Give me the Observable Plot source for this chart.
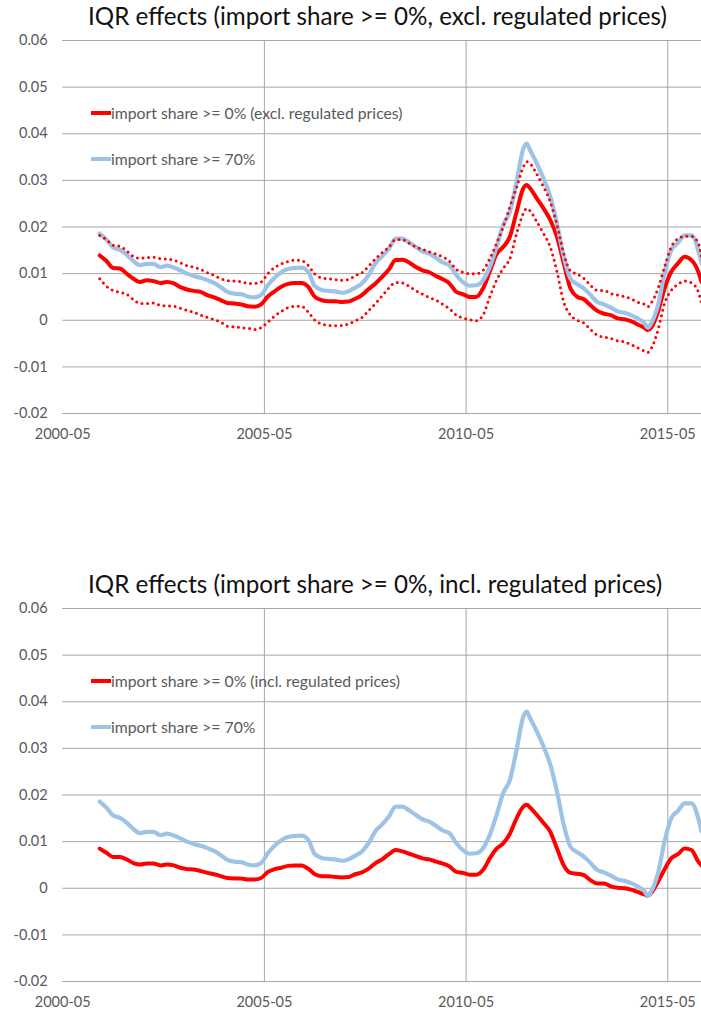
<!DOCTYPE html>
<html>
<head>
<meta charset="utf-8">
<script src="https://cdn.jsdelivr.net/npm/d3@7"></script>
<script src="https://cdn.jsdelivr.net/npm/@observablehq/plot@0.6"></script>
<style>
  html, body { margin: 0; padding: 0; background: #fff; }
  #wrap { position: relative; width: 701px; height: 1013px; overflow: hidden; font-family: Lato, "Open Sans", sans-serif; }
  .panel { position: absolute; left: 0; }
  .title { position: absolute; white-space: nowrap; color: #111; line-height: 30px; height: 30px; }
  .leg { position: absolute; white-space: nowrap; color: #595959; height: 20px; line-height: 20px; }
  .sw { position: absolute; left: 0; top: 8px; width: 20px; height: 4px; }
  .leg span.t { position: absolute; left: 20px; top: 0; }
</style>
</head>
<body>
<div id="wrap"></div>
<script>
// ---------- data ----------
const months = [
  "2001-04","2001-06","2001-08","2001-10","2001-12","2002-02","2002-04","2002-06","2002-08","2002-10",
  "2002-12","2003-02","2003-04","2003-06","2003-08","2003-10","2003-12","2004-02","2004-04","2004-06",
  "2004-08","2004-10","2004-12","2005-02","2005-04","2005-06","2005-08","2005-10","2005-12","2006-02",
  "2006-04","2006-06","2006-08","2006-10","2006-12","2007-02","2007-04","2007-06","2007-08","2007-10",
  "2007-12","2008-02","2008-04","2008-06","2008-08","2008-10","2008-12","2009-02","2009-04","2009-06",
  "2009-08","2009-10","2009-12","2010-02","2010-04","2010-06","2010-08","2010-10","2010-12","2011-02",
  "2011-04","2011-06","2011-08","2011-10","2011-11","2011-12","2012-02","2012-04","2012-06","2012-08",
  "2012-10","2012-12","2013-02","2013-04","2013-06","2013-08","2013-10","2013-12","2014-02","2014-04",
  "2014-06","2014-08","2014-10","2014-11","2014-12","2015-02","2015-04","2015-06","2015-08","2015-10",
  "2015-12","2016-02","2016-03"
];

// import share >= 70% (same series in both panels)
const share70 = [
  0.0186,0.0173,0.0156,0.0151,0.0141,0.0127,0.0118,0.0121,0.0121,0.0114,
  0.0117,0.0113,0.0107,0.0100,0.0095,0.0091,0.0086,0.0080,0.0071,0.0061,
  0.0057,0.0056,0.0051,0.0049,0.0054,0.0075,0.0091,0.0103,0.0110,0.0112,
  0.0113,0.0104,0.0073,0.0065,0.0063,0.0062,0.0059,0.0062,0.0070,0.0079,
  0.0097,0.0123,0.0137,0.0154,0.0175,0.0175,0.0167,0.0157,0.0148,0.0143,
  0.0134,0.0124,0.0118,0.0097,0.0082,0.0074,0.0075,0.0086,0.0114,0.0157,
  0.0204,0.0232,0.0297,0.0368,0.0379,0.0365,0.0336,0.0304,0.0265,0.0207,
  0.0136,0.0089,0.0077,0.0068,0.0054,0.0039,0.0034,0.0027,0.0019,0.0016,
  0.0011,0.0004,-0.0006,-0.0016,-0.0007,0.0032,0.0100,0.0150,0.0166,0.0182,
  0.0182,0.0150,0.0122
];

// import share >= 0% (excl. regulated prices)
const share0Excl = [
  0.0139,0.0127,0.0112,0.0111,0.0100,0.0089,0.0082,0.0086,0.0084,0.0080,
  0.0082,0.0079,0.0071,0.0066,0.0063,0.0061,0.0054,0.0049,0.0043,0.0037,
  0.0036,0.0034,0.0030,0.0029,0.0034,0.0051,0.0062,0.0072,0.0078,0.0080,
  0.0080,0.0072,0.0050,0.0043,0.0041,0.0041,0.0039,0.0040,0.0046,0.0054,
  0.0067,0.0079,0.0093,0.0109,0.0129,0.0130,0.0124,0.0114,0.0107,0.0103,
  0.0095,0.0088,0.0079,0.0061,0.0056,0.0050,0.0050,0.0068,0.0104,0.0142,
  0.0157,0.0179,0.0232,0.0283,0.0290,0.0283,0.0261,0.0240,0.0215,0.0179,
  0.0122,0.0068,0.0050,0.0045,0.0032,0.0020,0.0014,0.0011,0.0004,0.0002,
  -0.0002,-0.0009,-0.0016,-0.0021,-0.0016,0.0018,0.0068,0.0104,0.0122,0.0136,
  0.0129,0.0104,0.0082
];

// upper band (dotted)
const share0ExclUpper = [
  0.0182,0.0173,0.0161,0.0159,0.0149,0.0137,0.0133,0.0134,0.0135,0.0132,
  0.0131,0.0129,0.0123,0.0117,0.0114,0.0109,0.0102,0.0096,0.0089,0.0085,
  0.0084,0.0083,0.0079,0.0079,0.0082,0.0100,0.0113,0.0121,0.0126,0.0129,
  0.0128,0.0118,0.0099,0.0091,0.0089,0.0087,0.0086,0.0087,0.0096,0.0102,
  0.0116,0.0132,0.0145,0.0157,0.0173,0.0173,0.0165,0.0157,0.0152,0.0147,
  0.0142,0.0136,0.0127,0.0109,0.0103,0.0100,0.0100,0.0107,0.0132,0.0165,
  0.0200,0.0243,0.0285,0.0329,0.0340,0.0336,0.0313,0.0286,0.0254,0.0204,
  0.0143,0.0106,0.0099,0.0090,0.0075,0.0064,0.0064,0.0057,0.0054,0.0051,
  0.0046,0.0039,0.0034,0.0029,0.0037,0.0068,0.0114,0.0157,0.0175,0.0180,
  0.0180,0.0165,0.0136
];

// lower band (dotted)
const share0ExclLower = [
  0.0089,0.0073,0.0064,0.0060,0.0056,0.0044,0.0036,0.0036,0.0037,0.0032,
  0.0031,0.0030,0.0026,0.0021,0.0017,0.0011,0.0006,0.0001,-0.0004,-0.0013,
  -0.0014,-0.0016,-0.0017,-0.0020,-0.0016,-0.0004,0.0009,0.0019,0.0027,0.0030,
  0.0030,0.0018,0.0000,-0.0008,-0.0011,-0.0012,-0.0011,-0.0008,-0.0001,0.0006,
  0.0021,0.0036,0.0052,0.0069,0.0081,0.0080,0.0073,0.0063,0.0056,0.0049,
  0.0043,0.0034,0.0025,0.0011,0.0005,0.0001,-0.0001,0.0011,0.0050,0.0086,
  0.0111,0.0132,0.0186,0.0229,0.0240,0.0235,0.0211,0.0186,0.0157,0.0104,
  0.0039,0.0011,0.0000,-0.0006,-0.0020,-0.0032,-0.0036,-0.0039,-0.0044,-0.0046,
  -0.0052,-0.0059,-0.0066,-0.0069,-0.0061,-0.0021,0.0036,0.0064,0.0077,0.0084,
  0.0080,0.0061,0.0036
];

// import share >= 0% (incl. regulated prices)
const share0Incl = [
  0.0085,0.0076,0.0067,0.0067,0.0062,0.0054,0.0051,0.0053,0.0053,0.0049,
  0.0051,0.0049,0.0044,0.0041,0.0040,0.0037,0.0033,0.0030,0.0026,0.0022,
  0.0021,0.0021,0.0019,0.0019,0.0022,0.0035,0.0041,0.0044,0.0048,0.0049,
  0.0049,0.0042,0.0030,0.0026,0.0026,0.0024,0.0023,0.0024,0.0030,0.0034,
  0.0042,0.0054,0.0062,0.0073,0.0082,0.0079,0.0074,0.0069,0.0064,0.0062,
  0.0057,0.0053,0.0047,0.0035,0.0033,0.0029,0.0029,0.0039,0.0064,0.0085,
  0.0096,0.0117,0.0150,0.0175,0.0179,0.0173,0.0157,0.0140,0.0121,0.0085,
  0.0049,0.0033,0.0031,0.0028,0.0017,0.0010,0.0010,0.0004,0.0001,0.0000,
  -0.0003,-0.0008,-0.0013,-0.0016,-0.0010,0.0014,0.0040,0.0064,0.0073,0.0085,
  0.0082,0.0057,0.0049
];

const yTicks = [-0.02, -0.01, 0, 0.01, 0.02, 0.03, 0.04, 0.05, 0.06];
const xTickLabels = ["2000-05", "2005-05", "2010-05", "2015-05"];
const xGridLabels = ["2005-05", "2010-05", "2015-05"];
const xDomain = ["2000-05", "2016-03"];

const titles = [
  "IQR effects (import share >= 0%, excl. regulated prices)",
  "IQR effects (import share >= 0%, incl. regulated prices)"
];
const legendRed = [
  "import share >= 0% (excl. regulated prices)",
  "import share >= 0% (incl. regulated prices)"
];
const legendBlue = "import share >= 70%";

// ---------- rendering ----------
const RED = "#ff0000", BLUE = "#9dc3e6", GRID = "#a6a6a6";
const FONT = "Lato";
const parse = d3.utcParse("%Y-%m");
const series = vals => months.map((m, i) => ({date: parse(m), value: vals[i]}));

const ctx = document.createElement("canvas").getContext("2d");
function fit(text, target) {
  ctx.font = `100px ${FONT}`;
  return 100 * target / ctx.measureText(text).width;
}
const tickFont = fit("2000-05", 56) ;
const titleFont = fit(titles[0], 579);
const legFont = fit(legendRed[1], 289);

function panel(redVals, bands) {
  const marks = [
    Plot.ruleY(yTicks, {stroke: GRID, strokeWidth: 1}),
    Plot.ruleX(xGridLabels.map(parse), {stroke: GRID, strokeWidth: 1}),
    Plot.line(series(redVals), {x: "date", y: "value", stroke: RED, strokeWidth: 4, curve: "monotone-x"}),
    Plot.line(series(share70), {x: "date", y: "value", stroke: BLUE, strokeWidth: 4.2, curve: "monotone-x"})
  ];
  if (bands) {
    for (const b of bands) {
      marks.push(Plot.line(series(b), {x: "date", y: "value", stroke: RED, strokeWidth: 3,
        strokeDasharray: "0 5.6", strokeLinecap: "round", curve: "monotone-x"}));
    }
  }
  return Plot.plot({
    width: 701, height: 460,
    marginTop: 40, marginBottom: 47, marginLeft: 62.2, marginRight: 0,
    style: {fontFamily: FONT, fontSize: tickFont.toFixed(2) + "px", color: "#595959", background: "transparent", overflow: "visible"},
    x: {type: "utc", domain: xDomain.map(parse), ticks: xTickLabels.map(parse),
        tickFormat: d3.utcFormat("%Y-%m"), tickSize: 0, tickPadding: 15, label: null},
    y: {domain: [-0.02, 0.06], ticks: yTicks, tickFormat: d => d === 0 ? "0" : d.toFixed(2),
        tickSize: 0, tickPadding: 15, label: null},
    marks
  });
}

const wrap = document.getElementById("wrap");
const offsets = [0, 568];
const panels = [
  panel(share0Excl, [share0ExclUpper, share0ExclLower]),
  panel(share0Incl, null)
];

panels.forEach((svg, i) => {
  const top = offsets[i];
  svg.classList.add("panel");
  svg.style.top = top + "px";
  wrap.appendChild(svg);

  const t = document.createElement("div");
  t.className = "title";
  t.textContent = titles[i];
  t.style.fontSize = titleFont.toFixed(2) + "px";
  t.style.left = "88px";
  t.style.top = (top + 1) + "px";
  wrap.appendChild(t);

  const legs = [[legendRed[i], RED, 113], [legendBlue, BLUE, 159]];
  legs.forEach(([txt, col, y]) => {
    const d = document.createElement("div");
    d.className = "leg";
    d.style.left = "91px";
    d.style.top = (top + y - 10) + "px";
    d.style.fontSize = legFont.toFixed(2) + "px";
    const sw = document.createElement("div");
    sw.className = "sw";
    sw.style.background = col;
    const s = document.createElement("span");
    s.className = "t";
    s.textContent = txt;
    d.appendChild(sw);
    d.appendChild(s);
    wrap.appendChild(d);
  });
});
</script>
</body>
</html>
